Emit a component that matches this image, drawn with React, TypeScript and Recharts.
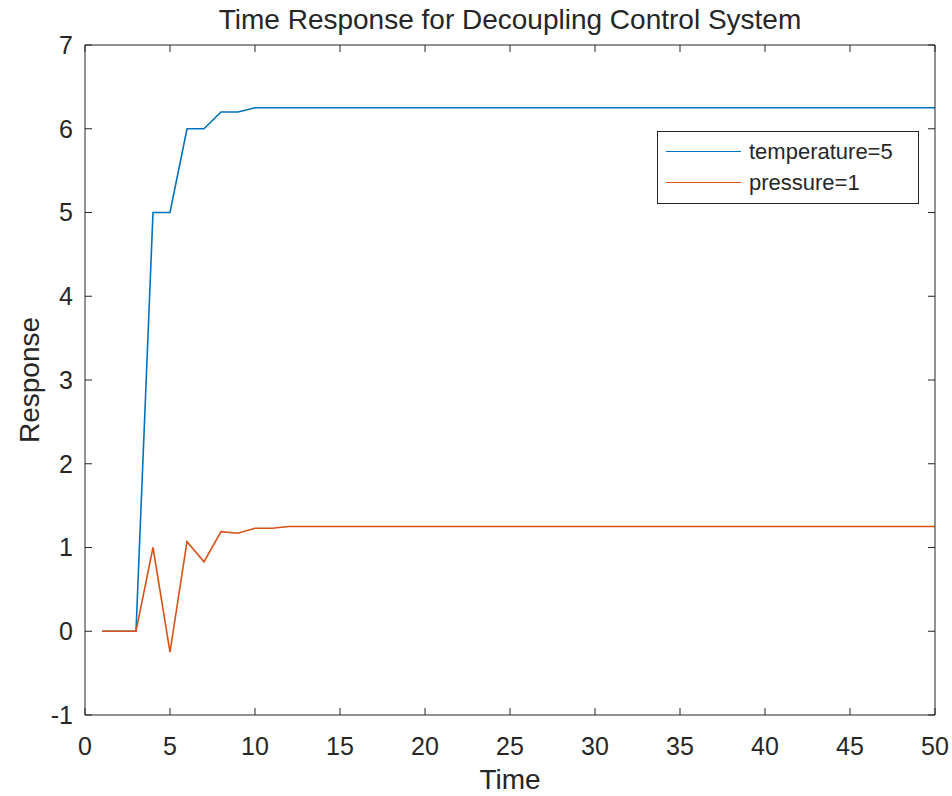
import { LineChart, Line, XAxis, YAxis } from "recharts";

const time = [
  1, 2, 3, 4, 5, 6, 7, 8, 9, 10, 11, 12, 13, 14, 15, 16, 17, 18, 19, 20, 21, 22, 23, 24, 25,
  26, 27, 28, 29, 30, 31, 32, 33, 34, 35, 36, 37, 38, 39, 40, 41, 42, 43, 44, 45, 46, 47, 48, 49, 50,
];

const temperature = [
  0, 0, 0, 5, 5, 6, 6, 6.2, 6.2, 6.25, 6.25, 6.25, 6.25, 6.25, 6.25, 6.25, 6.25, 6.25, 6.25, 6.25,
  6.25, 6.25, 6.25, 6.25, 6.25, 6.25, 6.25, 6.25, 6.25, 6.25, 6.25, 6.25, 6.25, 6.25, 6.25, 6.25,
  6.25, 6.25, 6.25, 6.25, 6.25, 6.25, 6.25, 6.25, 6.25, 6.25, 6.25, 6.25, 6.25, 6.25,
];

const pressure = [
  0, 0, 0, 1.0, -0.25, 1.07, 0.83, 1.19, 1.17, 1.23, 1.23, 1.25, 1.25, 1.25, 1.25, 1.25, 1.25, 1.25,
  1.25, 1.25, 1.25, 1.25, 1.25, 1.25, 1.25, 1.25, 1.25, 1.25, 1.25, 1.25, 1.25, 1.25, 1.25, 1.25,
  1.25, 1.25, 1.25, 1.25, 1.25, 1.25, 1.25, 1.25, 1.25, 1.25, 1.25, 1.25, 1.25, 1.25, 1.25, 1.25,
];

const xTicks = [0, 5, 10, 15, 20, 25, 30, 35, 40, 45, 50];
const yTicks = [-1, 0, 1, 2, 3, 4, 5, 6, 7];

const SERIES = [
  { key: "temperature", name: "temperature=5", color: "#0072BD" },
  { key: "pressure", name: "pressure=1", color: "#D95319" },
];

const AXIS = "#262626";
const FONT = "'Liberation Sans', Arial, Helvetica, sans-serif";
const TICK = 7;

const chartData = time.map((t, i) => ({
  time: t,
  temperature: temperature[i],
  pressure: pressure[i],
}));

// ticks point into the plot box, MATLAB style
function BottomTick({ x, y, payload }: any) {
  return (
    <g>
      <line x1={x} y1={y} x2={x} y2={y - TICK} stroke={AXIS} />
      <text x={x} y={y + 40} textAnchor="middle" fill={AXIS} fontSize={25} fontFamily={FONT}>
        {payload.value}
      </text>
    </g>
  );
}

function LeftTick({ x, y, payload }: any) {
  return (
    <g>
      <line x1={x} y1={y} x2={x + TICK} y2={y} stroke={AXIS} />
      <text x={x - 12} y={y} dy="0.35em" textAnchor="end" fill={AXIS} fontSize={25} fontFamily={FONT}>
        {payload.value}
      </text>
    </g>
  );
}

function TopTick({ x, y }: any) {
  return <line x1={x} y1={y} x2={x} y2={y + TICK} stroke={AXIS} />;
}

function RightTick({ x, y }: any) {
  return <line x1={x} y1={y} x2={x - TICK} y2={y} stroke={AXIS} />;
}

function LegendBox() {
  return (
    <div
      style={{
        position: "absolute",
        left: 657,
        top: 131,
        width: 262,
        boxSizing: "border-box",
        border: `1px solid ${AXIS}`,
        background: "#fff",
        padding: "4px 10px 5px 8px",
        fontFamily: FONT,
        fontSize: 22,
        color: AXIS,
        lineHeight: "31px",
      }}
    >
      {SERIES.map((s) => (
        <div key={s.key} style={{ display: "flex", alignItems: "center" }}>
          <span style={{ display: "inline-block", width: 75, height: 0, borderTop: `1.6px solid ${s.color}`, marginRight: 8 }} />
          <span>{s.name}</span>
        </div>
      ))}
    </div>
  );
}

const textStyle = { position: "absolute" as const, fontFamily: FONT, fontSize: 28, color: AXIS };

export default function App() {
  return (
    <div style={{ position: "absolute", left: 0, top: 0, width: 952, height: 796, background: "#fff" }}>
      <LineChart
        width={952}
        height={796}
        data={chartData}
        margin={{ top: 44, right: 16, left: 0, bottom: 0 }}
      >
        <XAxis
          dataKey="time"
          type="number"
          domain={[0, 50]}
          ticks={xTicks}
          height={81}
          stroke={AXIS}
          tickLine={false}
          tickSize={0}
          tickMargin={0}
          tick={<BottomTick />}
        />
        <XAxis
          xAxisId="top"
          dataKey="time"
          orientation="top"
          type="number"
          domain={[0, 50]}
          ticks={xTicks}
          height={1}
          stroke={AXIS}
          tickLine={false}
          tickSize={0}
          tickMargin={0}
          tick={<TopTick />}
        />
        <YAxis
          type="number"
          domain={[-1, 7]}
          ticks={yTicks}
          width={85}
          stroke={AXIS}
          tickLine={false}
          tickSize={0}
          tickMargin={0}
          tick={<LeftTick />}
        />
        <YAxis
          yAxisId="right"
          orientation="right"
          type="number"
          domain={[-1, 7]}
          ticks={yTicks}
          width={1}
          stroke={AXIS}
          tickLine={false}
          tickSize={0}
          tickMargin={0}
          tick={<RightTick />}
        />
        {SERIES.map((s) => (
          <Line
            key={s.key}
            type="linear"
            dataKey={s.key}
            name={s.name}
            stroke={s.color}
            strokeWidth={1.6}
            dot={false}
            isAnimationActive={false}
          />
        ))}
        {/* invisible copy so the top/right box axes have a series bound to them */}
        <Line
          xAxisId="top"
          yAxisId="right"
          dataKey="temperature"
          stroke="none"
          dot={false}
          activeDot={false}
          legendType="none"
          isAnimationActive={false}
        />
      </LineChart>
      <LegendBox />
      <div style={{ ...textStyle, left: 85, width: 850, top: 4, textAlign: "center" }}>
        Time Response for Decoupling Control System
      </div>
      <div style={{ ...textStyle, left: 85, width: 850, top: 764, textAlign: "center" }}>Time</div>
      <div
        style={{
          ...textStyle,
          left: 30,
          top: 380,
          transform: "translate(-50%, -50%) rotate(-90deg)",
          whiteSpace: "nowrap",
        }}
      >
        Response
      </div>
    </div>
  );
}
